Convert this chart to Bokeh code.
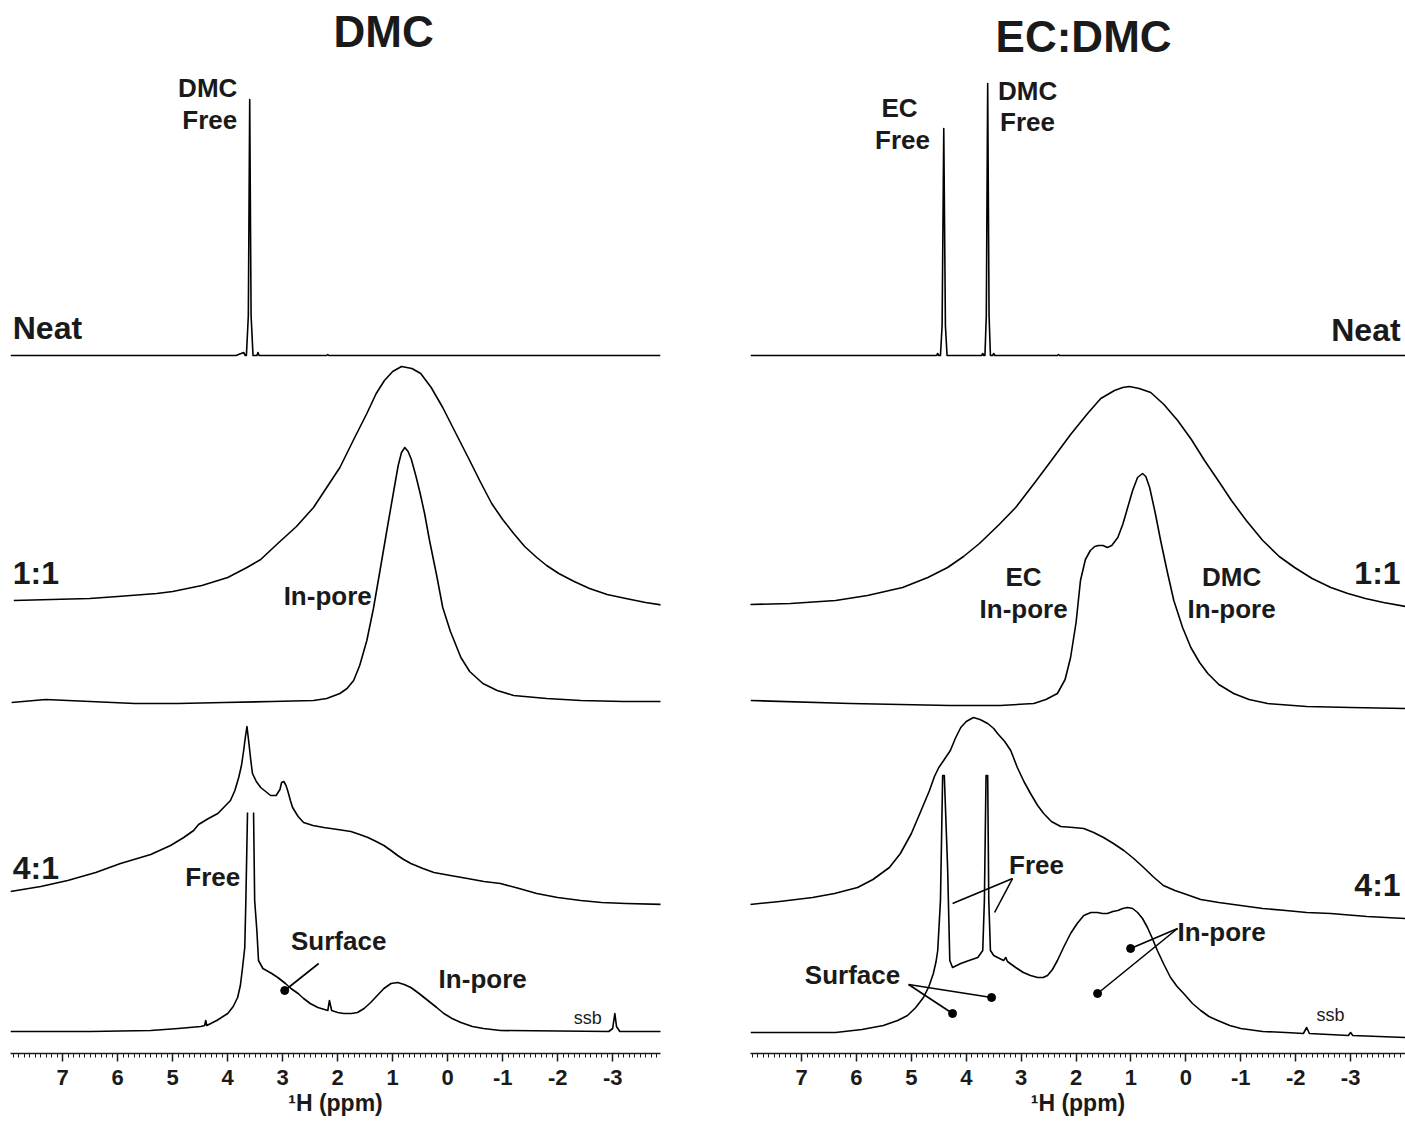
import numpy as np
from bokeh.plotting import figure
from bokeh.layouts import row
from bokeh.models import Range1d, FixedTicker, Label, ColumnDataSource
from bokeh.core.properties import value
from bokeh.embed import file_html
from bokeh.resources import INLINE

NAN = float("nan")

# ---------------- DATA (ppm, intensity in a.u. above each trace's baseline) ----------------
# DMC panel
dmc_neat_ppm = [7.95, 3.85, 3.71, 3.68, 3.66, 3.625, 3.60, 3.575, 3.54, 3.47, 3.45, 3.43, 2.20, 2.18, 2.16, -3.87]
dmc_neat_int = [0, 0, 3, 0, 0, 40, 256, 40, 0, 0, 3, 0, 0, 1, 0, 0]

dmc_11_static_ppm = [7.89, 7.2, 6.51, 6.0, 5.29, 5.0, 4.47, 4.0, 3.65, 3.4, 3.09, 2.75, 2.44, 2.2, 1.96, 1.7,
                     1.47, 1.3, 1.15, 1.0, 0.84, 0.65, 0.49, 0.3, 0.09, -0.15, -0.40, -0.6, -0.80, -1.0,
                     -1.20, -1.4, -1.62, -1.8, -2.02, -2.3, -2.58, -2.9, -3.24, -3.6, -3.96]
dmc_11_static_int = [5, 6, 7, 9, 12, 14, 20, 28, 38, 46, 62, 79, 98, 118, 138, 167, 192, 212, 225, 234, 239,
                     237, 232, 218, 198, 172, 145, 123, 102, 86, 72, 59, 48, 40, 32, 24, 17, 11, 7, 3, 0]

dmc_11_mas_ppm = [7.93, 7.31, 6.5, 5.69, 4.9, 4.07, 3.2, 2.44, 2.2, 1.96, 1.83, 1.71, 1.6, 1.47, 1.35, 1.24,
                  1.1, 0.98, 0.9, 0.84, 0.78, 0.72, 0.66, 0.58, 0.5, 0.42, 0.33, 0.2, 0.09, -0.05, -0.24,
                  -0.4, -0.64, -0.9, -1.20, -1.8, -2.42, -3.2, -3.96]
dmc_11_mas_int = [1, 4, 2, 0, 0, 1, 2, 3, 5, 10, 15, 23, 38, 63, 95, 130, 175, 213, 238, 251, 256, 252, 244,
                  228, 210, 190, 163, 128, 96, 72, 46, 32, 20, 13, 8, 5, 3, 2, 2]

dmc_41_static_ppm = [7.95, 7.4, 6.91, 6.4, 5.95, 5.40, 5.04, 4.8, 4.62, 4.53, 4.35, 4.18, 3.95, 3.87, 3.80,
                     3.75, 3.71, 3.68, 3.65, 3.62, 3.58, 3.55, 3.48, 3.40, 3.22, 3.12, 3.05, 3.02, 2.98,
                     2.94, 2.91, 2.86, 2.82, 2.72, 2.62, 2.45, 2.25, 2.0, 1.76, 1.6, 1.45, 1.3, 1.16, 1.03,
                     0.91, 0.8, 0.67, 0.45, 0.25, -0.05, -0.36, -0.66, -0.96, -1.3, -1.62, -2.0, -2.42,
                     -2.8, -3.24, -3.96]
dmc_41_static_int = [14, 19, 25, 33, 42, 51, 60, 68, 75, 81, 87, 92, 105, 115, 128, 140, 155, 168, 179, 165,
                     145, 132, 124, 118, 110, 110, 116, 123, 124, 120, 115, 105, 98, 89, 83, 80, 78, 76, 74,
                     71, 68, 64, 60, 55, 50, 46, 42, 37, 33, 30, 27, 24, 22, 17, 12, 8, 5, 3, 2, 1]

dmc_41_mas_ppm = [7.95, 6.5, 5.40, 4.9, 4.49, 4.42, 4.40, 4.38, 4.2, 4.00, 3.9, 3.82, 3.77, 3.73, 3.69,
                  3.67, 3.64, 3.58, 3.53, 3.51, 3.47, 3.44, 3.36, 3.2, 3.09, 2.95, 2.85, 2.72, 2.62, 2.5,
                  2.36, 2.18, 2.15, 2.11, 2.0, 1.89, 1.75, 1.64, 1.52, 1.40, 1.28, 1.16, 1.03, 0.91, 0.79,
                  0.67, 0.52, 0.36, 0.2, 0.07, -0.08, -0.24, -0.45, -0.65, -0.96, -2.93, -3.00, -3.04,
                  -3.07, -3.13, -3.96]
dmc_41_mas_int = [0, 0, 1, 3, 5, 6, 11, 6, 11, 18, 25, 34, 46, 64, 84, 131, 219, NAN, 219, 131, 101, 71,
                  63, 58, 54, 48, 43, 38, 33, 28, 24, 21, 31, 21, 19, 18, 18, 19, 23, 29, 36, 43, 48, 49,
                  47, 44, 38, 31, 24, 18, 13, 9, 5, 3, 1, 0, 3, 18, 5, 0, 0]

# EC:DMC panel
ecdmc_neat_ppm = [7.93, 4.54, 4.52, 4.50, 4.47, 4.44, 4.41, 4.38, 4.35, 3.72, 3.70, 3.68, 3.66, 3.635,
                  3.61, 3.585, 3.56, 3.52, 3.50, 3.48, 2.34, 2.32, 2.30, -4.0]
ecdmc_neat_int = [0, 0, 2, 0, 0, 30, 227, 30, 0, 0, 2, 0, 0, 40, 272, 40, 0, 0, 2, 0, 0, 1, 0, 0]

ecdmc_11_static_ppm = [7.95, 7.2, 6.38, 5.8, 5.16, 4.7, 4.34, 4.05, 3.76, 3.4, 3.10, 2.75, 2.45, 2.1, 1.79,
                       1.55, 1.30, 1.15, 1.03, 0.85, 0.64, 0.4, 0.15, -0.1, -0.34, -0.6, -0.83, -1.1,
                       -1.40, -1.7, -1.98, -2.3, -2.64, -2.95, -3.27, -3.6, -4.0]
ecdmc_11_static_int = [2, 3, 6, 11, 19, 29, 39, 50, 63, 82, 99, 124, 146, 172, 193, 208, 216, 219, 220, 218,
                       214, 202, 186, 167, 146, 125, 106, 86, 66, 50, 39, 28, 19, 13, 8, 4, 0]

ecdmc_11_mas_ppm = [7.93, 6.11, 4.29, 3.38, 2.77, 2.55, 2.34, 2.2, 2.10, 2.0, 1.92, 1.83, 1.74, 1.66, 1.59,
                    1.51, 1.43, 1.35, 1.24, 1.15, 1.06, 0.97, 0.88, 0.79, 0.73, 0.66, 0.56, 0.46, 0.34,
                    0.22, 0.06, -0.09, -0.25, -0.40, -0.6, -0.87, -1.15, -1.49, -2.2, -3.0, -4.0]
ecdmc_11_mas_int = [7, 4, 2, 2, 4, 8, 14, 28, 50, 85, 127, 148, 157, 161, 162, 162, 160, 162, 170, 183, 200,
                    217, 230, 234, 231, 220, 195, 167, 136, 107, 80, 60, 45, 34, 23, 14, 8, 4, 1, 0, -1]

ecdmc_41_static_ppm = [7.95, 7.4, 6.8, 6.4, 5.98, 5.7, 5.40, 5.2, 5.00, 4.83, 4.67, 4.58, 4.50, 4.40, 4.29,
                       4.2, 4.10, 4.0, 3.87, 3.75, 3.61, 3.5, 3.43, 3.3, 3.19, 3.07, 2.95, 2.83, 2.7, 2.59,
                       2.45, 2.28, 2.05, 1.86, 1.68, 1.50, 1.32, 1.13, 0.95, 0.77, 0.6, 0.41, 0.2, 0.04,
                       -0.27, -0.6, -1.00, -1.4, -1.82, -2.2, -2.64, -3.3, -4.0]
ecdmc_41_static_int = [14, 17, 21, 25, 31, 39, 51, 65, 85, 107, 128, 142, 151, 159, 168, 180, 191, 197, 201,
                       199, 195, 190, 185, 177, 168, 151, 137, 125, 113, 105, 97, 92, 91, 90, 86, 81, 75,
                       68, 60, 51, 42, 33, 28, 25, 19, 16, 13, 10, 8, 6, 5, 2, 0]

ecdmc_41_mas_ppm = [7.93, 6.38, 5.9, 5.51, 5.25, 5.07, 4.92, 4.78, 4.68, 4.60, 4.55, 4.52, 4.47, 4.43, 4.40,
                    4.34, 4.30, 4.25, 4.10, 3.95, 3.79, 3.70, 3.67, 3.64, 3.61, 3.59, 3.56, 3.50, 3.43,
                    3.32, 3.28, 3.25, 3.1, 2.96, 2.83, 2.70, 2.60, 2.52, 2.43, 2.34, 2.22, 2.10, 1.98,
                    1.86, 1.73, 1.61, 1.52, 1.43, 1.33, 1.24, 1.15, 1.06, 0.97, 0.88, 0.79, 0.70, 0.61,
                    0.52, 0.40, 0.28, 0.16, 0.04, -0.12, -0.27, -0.42, -0.58, -0.8, -1.00, -1.4, -1.82,
                    -2.14, -2.20, -2.25, -2.96, -3.00, -3.04, -4.0]
ecdmc_41_mas_int = [4, 4, 7, 11, 16, 21, 29, 39, 50, 63, 75, 86, 136, 261, 261, 169, 76, 69, 73, 76, 79, 86,
                    136, 261, 261, 136, 86, 81, 79, 76, 79, 75, 69, 64, 61, 59, 59, 61, 67, 76, 90, 103,
                    113, 121, 124, 124, 123, 123, 125, 126, 128, 129, 128, 124, 118, 109, 98, 86, 72, 59,
                    50, 43, 33, 26, 20, 16, 11, 8, 5, 4, 3, 9, 3, 1, 4, 1, -1]

major_ticks = [7, 6, 5, 4, 3, 2, 1, 0, -1, -2, -3]
tick_text = {t: str(t) for t in major_ticks}

# ---------------- LAYOUT CONSTANTS ----------------
AXIS_Y = 1053          # pixel row of the axis line
FONT = "Liberation Sans"
INK = "#1a1a1a"

def ypos(ref_y):
    return AXIS_Y - ref_y

def make_fig(x0, x1, frame_w, bl, br):
    p = figure(width=bl + frame_w + br, height=1124,
               x_range=Range1d(x0, x1), y_range=Range1d(0, AXIS_Y),
               output_backend="svg", toolbar_location=None, y_axis_location=None,
               min_border_left=bl, min_border_right=br, min_border_top=0, min_border_bottom=1124 - AXIS_Y)
    p.grid.visible = False
    p.outline_line_color = None
    p.background_fill_color = "white"
    p.border_fill_color = "white"
    ax = p.xaxis[0]
    ax.ticker = FixedTicker(ticks=major_ticks,
                            minor_ticks=[round(v, 1) for v in np.arange(-4.0, 8.0, 0.1)])
    ax.major_label_overrides = tick_text
    ax.axis_line_width = 1.6
    ax.axis_line_color = INK
    ax.major_tick_out = 8
    ax.major_tick_in = 0
    ax.minor_tick_out = 4
    ax.minor_tick_in = 0
    ax.major_tick_line_color = INK
    ax.minor_tick_line_color = INK
    ax.major_tick_line_width = 1.5
    ax.minor_tick_line_width = 1
    ax.major_label_text_font = FONT
    ax.major_label_text_font_style = "bold"
    ax.major_label_text_font_size = "22px"
    ax.major_label_text_color = INK
    ax.major_label_standoff = 8
    ax.axis_label = "¹H (ppm)"
    ax.axis_label_text_font = FONT
    ax.axis_label_text_font_style = "bold"
    ax.axis_label_text_font_size = "23px"
    ax.axis_label_text_color = INK
    ax.axis_label_standoff = 2
    return p

def add_trace(p, ppm, inten, base_ref_y):
    off = ypos(base_ref_y)
    ys = [off + v for v in inten]
    p.line(x=ppm, y=ys, line_color="black", line_width=1.6, line_join="round")

def add_texts(p, items, size, style="bold", align="center"):
    src = ColumnDataSource(dict(x=[i[0] for i in items], y=[i[1] for i in items], t=[i[2] for i in items]))
    p.text(x="x", y="y", text="t", source=src, text_font=value(FONT), text_font_style=style,
           text_font_size=size, text_align=align, text_baseline="middle", text_color=INK)

# ---------------- LEFT: DMC ----------------
L = lambda x: 7 - (x - 62) / 55.0   # pixel column -> ppm (annotation placement only)
p1 = make_fig(7.95, -3.87, 650, 10, 85)
add_trace(p1, dmc_neat_ppm, dmc_neat_int, 355)
add_trace(p1, dmc_11_static_ppm, dmc_11_static_int, 605)
add_trace(p1, dmc_11_mas_ppm, dmc_11_mas_int, 703)
add_trace(p1, dmc_41_static_ppm, dmc_41_static_int, 905)
add_trace(p1, dmc_41_mas_ppm, dmc_41_mas_int, 1031)

add_texts(p1, [(L(383), ypos(31), "DMC")], "44px")
add_texts(p1, [(L(207), ypos(87), "DMC"), (L(209), ypos(119), "Free"),
               (L(327), ypos(595), "In-pore"), (L(212), ypos(876), "Free"),
               (L(338), ypos(940), "Surface"), (L(482), ypos(978), "In-pore")], "26px")
add_texts(p1, [(L(12), ypos(327), "Neat"), (L(12), ypos(572), "1:1"), (L(12), ypos(867), "4:1")],
          "32px", align="left")
add_texts(p1, [(L(587), ypos(1017), "ssb")], "18px", style="normal")

p1.segment(x0=[L(318)], y0=[ypos(963)], x1=[L(284)], y1=[ypos(990)], line_color="black", line_width=1.6)
p1.scatter(x=[L(284)], y=[ypos(990)], size=8, color="black")

for txt, ry in [("MAS", 352), ("Static", 601), ("MAS", 693), ("Static", 900), ("MAS", 1028)]:
    p1.add_layout(Label(x=L(711), y=ypos(ry), text=txt, text_align="center", text_baseline="middle",
                        text_font=FONT, text_font_style="italic", text_font_size="26px",
                        text_color=INK))

# ---------------- RIGHT: EC:DMC ----------------
R = lambda x: 7 - (x - 801) / 54.9
p2 = make_fig(7.93, -4.0, 655, 5, 0)
add_trace(p2, ecdmc_neat_ppm, ecdmc_neat_int, 355)
add_trace(p2, ecdmc_11_static_ppm, ecdmc_11_static_int, 606)
add_trace(p2, ecdmc_11_mas_ppm, ecdmc_11_mas_int, 707)
add_trace(p2, ecdmc_41_static_ppm, ecdmc_41_static_int, 918)
add_trace(p2, ecdmc_41_mas_ppm, ecdmc_41_mas_int, 1036)

add_texts(p2, [(R(1083), ypos(36), "EC:DMC")], "44px")
add_texts(p2, [(R(899), ypos(107), "EC"), (R(902), ypos(139), "Free"),
               (R(1027), ypos(90), "DMC"), (R(1027), ypos(121), "Free"),
               (R(1023), ypos(576), "EC"), (R(1023), ypos(608), "In-pore"),
               (R(1231), ypos(576), "DMC"), (R(1231), ypos(608), "In-pore"),
               (R(1036), ypos(864), "Free"), (R(1221), ypos(931), "In-pore"),
               (R(852), ypos(974), "Surface")], "26px")
add_texts(p2, [(R(1400), ypos(329), "Neat"), (R(1400), ypos(572), "1:1"), (R(1400), ypos(884), "4:1")],
          "32px", align="right")
add_texts(p2, [(R(1330), ypos(1014), "ssb")], "18px", style="normal")

seg_from = [(1012, 878), (1012, 878), (1177, 928), (1177, 928), (908, 984), (908, 984)]
seg_to = [(952, 903), (994, 912), (1130, 948), (1097, 993), (991, 997), (952, 1013)]
p2.segment(x0=[R(a[0]) for a in seg_from], y0=[ypos(a[1]) for a in seg_from],
           x1=[R(b[0]) for b in seg_to], y1=[ypos(b[1]) for b in seg_to],
           line_color="black", line_width=1.6)
dots = seg_to[2:]
p2.scatter(x=[R(d[0]) for d in dots], y=[ypos(d[1]) for d in dots], size=8, color="black")

layout = row(p1, p2)
open("out.html", "w").write(file_html(layout, INLINE))
